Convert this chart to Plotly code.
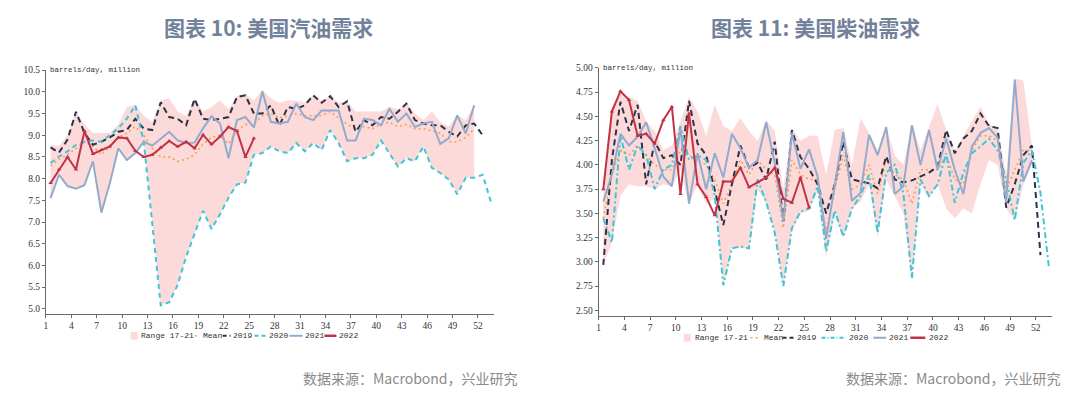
import plotly.graph_objects as go

W, H = 1080, 397

# ---------------- data: gasoline (left) ----------------
gas_2019 = [8.72, 8.60, 8.90, 9.54, 9.05, 8.78, 8.85, 8.95, 9.08, 9.12,
            9.38, 9.15, 9.12, 9.76, 9.42, 9.38, 9.23, 9.84, 9.38, 9.35,
            9.38, 9.42, 9.88, 9.92, 9.50, 9.50, 9.69, 9.22, 9.65, 9.61,
            9.69, 9.92, 9.75, 9.90, 9.65, 9.78, 9.08, 9.35, 9.23, 9.42,
            9.38, 9.54, 9.73, 9.35, 9.27, 9.23, 9.23, 9.08, 8.97, 9.23,
            9.27, 9.00]
gas_2020 = [8.36, 8.51, 8.63, 8.78, 8.85, 8.88, 8.85, 9.00, 9.16, 9.38,
            9.69, 8.85, 7.00, 5.08, 5.15, 5.55, 6.20, 6.73, 7.26, 6.84,
            7.18, 7.56, 7.87, 7.91, 8.55, 8.59, 8.74, 8.63, 8.59, 8.82,
            8.63, 8.82, 8.66, 9.12, 8.82, 8.40, 8.47, 8.47, 8.55, 8.88,
            8.59, 8.28, 8.47, 8.40, 8.74, 8.25, 8.13, 7.98, 7.64, 8.02,
            8.02, 8.09, 7.45]
gas_2021 = [7.55, 8.09, 7.83, 7.77, 7.85, 8.40, 7.22, 7.90, 8.70, 8.43,
            8.59, 8.85, 8.76, 8.91, 9.08, 8.88, 8.82, 8.83, 9.16, 9.44,
            9.27, 8.47, 9.35, 9.42, 9.18, 10.01, 9.31, 9.27, 9.31, 9.73,
            9.42, 9.35, 9.57, 9.57, 9.57, 8.88, 8.88, 9.38, 9.35, 9.23,
            9.61, 9.31, 9.50, 9.19, 9.27, 9.31, 8.80, 8.93, 9.46, 9.04,
            9.69]
gas_2022 = [7.90, 8.21, 8.50, 8.21, 9.10, 8.57, 8.66, 8.74, 8.95, 8.93,
            8.64, 8.50, 8.55, 8.72, 8.87, 8.74, 8.85, 8.70, 9.01, 8.79,
            8.97, 9.19, 9.10, 8.50, 8.93]
gas_mean = [8.30, 8.45, 8.55, 8.70, 8.85, 8.75, 8.55, 8.75, 8.95, 9.05,
            9.20, 9.00, 8.70, 8.50, 8.50, 8.40, 8.45, 8.55, 8.80, 8.95,
            9.00, 8.80, 9.10, 9.25, 9.25, 9.45, 9.50, 9.40, 9.45, 9.50,
            9.45, 9.45, 9.45, 9.55, 9.40, 9.25, 9.15, 9.20, 9.15, 9.25,
            9.30, 9.20, 9.25, 9.15, 9.15, 9.10, 9.05, 8.85, 8.85, 8.95,
            9.15]
gas_range_hi = [8.78, 8.75, 9.00, 9.55, 9.25, 9.05, 9.05, 9.05, 9.25, 9.65,
                9.70, 9.45, 9.30, 9.80, 9.85, 9.55, 9.45, 9.85, 9.55, 9.65,
                9.80, 9.60, 9.90, 9.95, 9.80, 10.05, 9.85, 9.75, 9.80, 9.80,
                9.75, 9.92, 9.80, 9.90, 9.75, 9.78, 9.55, 9.55, 9.55, 9.55,
                9.65, 9.60, 9.75, 9.50, 9.35, 9.55, 9.30, 9.20, 9.46, 9.35,
                9.70]
gas_range_lo = [7.55, 8.09, 7.83, 7.77, 7.85, 8.40, 7.22, 7.90, 8.70, 8.43,
                8.59, 8.85, 7.00, 5.08, 5.15, 5.55, 6.20, 6.73, 7.26, 6.84,
                7.18, 7.56, 7.87, 7.91, 8.55, 8.59, 8.74, 8.63, 8.59, 8.82,
                8.63, 8.82, 8.66, 9.12, 8.82, 8.40, 8.47, 8.47, 8.55, 8.88,
                8.59, 8.28, 8.47, 8.40, 8.74, 8.25, 8.13, 7.98, 7.64, 8.02,
                8.02]

# ---------------- data: diesel (right) ----------------
dsl_2019 = [2.97, 4.05, 4.65, 4.35, 4.62, 3.80, 4.24, 4.07, 4.10, 4.00,
            4.66, 4.22, 4.10, 3.75, 3.38, 3.80, 4.20, 3.97, 4.02, 3.85,
            4.24, 3.42, 4.36, 4.08, 3.96, 3.80, 3.50, 3.80, 4.24, 3.85,
            3.83, 3.81, 3.76, 4.09, 3.85, 3.82, 3.84, 3.88, 3.92, 3.98,
            4.36, 4.12, 4.27, 4.35, 4.53, 4.40, 4.38, 3.56, 3.80, 4.10,
            4.20, 3.07]
dsl_2020 = [3.45, 3.20, 4.30, 3.95, 4.20, 4.10, 3.75, 3.95, 4.00, 4.40,
            4.05, 4.10, 4.05, 3.68, 2.76, 3.14, 3.16, 3.14, 3.85, 3.62,
            3.30, 2.75, 3.35, 3.52, 3.55, 3.78, 3.11, 3.53, 3.26, 3.55,
            3.68, 3.90, 3.30, 3.92, 4.00, 3.71, 2.83, 3.85, 3.68, 3.80,
            4.12, 3.61, 3.92, 4.12, 4.19, 4.27, 4.15, 3.85, 3.43, 4.02,
            4.15, 3.71, 2.93]
dsl_2021 = [3.62, 3.90, 4.32, 4.20, 4.29, 4.44, 4.17, 3.88, 3.78, 4.38,
            3.60, 4.12, 3.75, 4.12, 3.87, 4.32, 4.17, 3.97, 4.05, 4.44,
            4.02, 3.42, 4.33, 3.96, 4.16, 3.88, 3.24, 3.80, 4.34, 3.63,
            3.71, 4.31, 4.10, 4.39, 3.70, 3.78, 4.41, 4.00, 4.36, 3.95,
            4.27, 3.95, 3.70, 4.19, 4.33, 4.38, 4.28, 3.62, 4.88, 3.83,
            4.05]
dsl_2022 = [3.75, 4.55, 4.76, 4.67, 4.30, 4.32, 4.22, 4.46, 4.60, 3.70,
            4.53, 3.80, 3.67, 3.48, 3.83, 3.83, 3.97, 3.77, 3.82, 3.87,
            3.97, 3.65, 3.61, 3.87, 3.56]
dsl_mean = [3.45, 3.90, 4.15, 4.10, 4.20, 4.10, 4.00, 3.95, 3.95, 4.15,
            4.10, 4.05, 4.00, 3.85, 3.60, 3.80, 4.05, 3.90, 4.05, 3.95,
            3.90, 3.35, 4.05, 3.90, 3.85, 3.85, 3.30, 3.75, 4.10, 3.75,
            3.80, 4.00, 3.70, 4.05, 3.90, 3.85, 3.60, 3.95, 3.95, 3.95,
            4.10, 3.85, 3.80, 4.15, 4.30, 4.30, 4.25, 3.75, 3.95, 4.15,
            4.15]
dsl_range_hi = [3.78, 4.60, 4.75, 4.70, 4.66, 4.45, 4.35, 4.15, 4.20, 4.45,
                4.70, 4.55, 4.30, 4.62, 4.40, 4.35, 4.48, 4.35, 4.25, 4.46,
                4.35, 3.75, 4.38, 4.25, 4.30, 4.30, 3.90, 4.36, 4.38, 4.00,
                4.48, 4.33, 4.15, 4.40, 4.10, 4.00, 4.42, 4.15, 4.38, 4.63,
                4.36, 4.15, 4.30, 4.45, 4.60, 4.42, 4.38, 3.90, 4.89, 4.87,
                4.20]
dsl_range_lo = [2.97, 3.20, 3.68, 3.80, 3.78, 3.78, 3.75, 3.80, 3.78, 3.95,
                3.60, 3.80, 3.60, 3.65, 2.76, 3.14, 3.14, 3.14, 3.75, 3.60,
                3.30, 2.75, 3.32, 3.50, 3.53, 3.73, 3.05, 3.50, 3.24, 3.55,
                3.62, 3.80, 3.25, 3.85, 3.68, 3.50, 2.83, 3.80, 3.65, 3.80,
                3.55, 3.45, 3.55, 3.50, 3.80, 4.05, 4.00, 3.55, 3.43, 3.80,
                4.00]

week_ticks = [1, 4, 7, 10, 13, 16, 19, 22, 25, 28, 31, 34, 37, 40, 43, 46, 49, 52]

# ---------------- styles ----------------
C_RANGE = "#fddada"
C_MEAN = "#f3a052"
C_2019 = "#2c3249"
C_2020 = "#3dc6d6"
C_2021 = "#92abcd"
C_2022 = "#c23247"
SHIFT = 0.55  # points sit inside each week slot

fig = go.Figure()


def weeks(vals):
    return [i + 1 + SHIFT for i in range(len(vals))]


def add_panel(xa, ya, hi, lo, mean, y19, y20, y21, y22, dash20):
    fig.add_trace(go.Scatter(x=weeks(hi), y=hi, xaxis=xa, yaxis=ya, mode="lines",
                             line=dict(width=0, color=C_RANGE), hoverinfo="skip",
                             showlegend=False))
    fig.add_trace(go.Scatter(x=weeks(lo), y=lo, xaxis=xa, yaxis=ya, mode="lines",
                             line=dict(width=0, color=C_RANGE), fill="tonexty",
                             fillcolor=C_RANGE, name="Range 17-21", showlegend=False))
    fig.add_trace(go.Scatter(x=weeks(mean), y=mean, xaxis=xa, yaxis=ya, mode="lines",
                             line=dict(color=C_MEAN, width=1.6, dash="2px,3px"),
                             name="Mean", showlegend=False))
    fig.add_trace(go.Scatter(x=weeks(y19), y=y19, xaxis=xa, yaxis=ya, mode="lines",
                             line=dict(color=C_2019, width=2, dash="6px,4px"),
                             name="2019", showlegend=False))
    fig.add_trace(go.Scatter(x=weeks(y20), y=y20, xaxis=xa, yaxis=ya, mode="lines",
                             line=dict(color=C_2020, width=2, dash=dash20),
                             name="2020", showlegend=False))
    fig.add_trace(go.Scatter(x=weeks(y21), y=y21, xaxis=xa, yaxis=ya, mode="lines",
                             line=dict(color=C_2021, width=2),
                             name="2021", showlegend=False))
    fig.add_trace(go.Scatter(x=weeks(y22), y=y22, xaxis=xa, yaxis=ya, mode="lines+markers",
                             line=dict(color=C_2022, width=2),
                             marker=dict(size=4, color=C_2022, symbol="triangle-up"),
                             name="2022", showlegend=False))


add_panel("x", "y", gas_range_hi, gas_range_lo, gas_mean,
          gas_2019, gas_2020, gas_2021, gas_2022, "5px,4px")
add_panel("x2", "y2", dsl_range_hi, dsl_range_lo, dsl_mean,
          dsl_2019, dsl_2020, dsl_2021, dsl_2022, "6px,3px,2px,3px")


def px(x):
    return x / W


def py(y):
    return 1 - y / H


tickfont = dict(family="Liberation Serif", size=9.5, color="#333333")
axis_common = dict(showgrid=False, zeroline=False, showline=True, linecolor="#6a6a6a",
                   linewidth=1, ticks="outside", ticklen=3, tickcolor="#6a6a6a",
                   tickfont=tickfont)

fig.update_layout(
    width=W, height=H, margin=dict(l=0, r=0, t=0, b=0),
    paper_bgcolor="white", plot_bgcolor="white", showlegend=False,
    xaxis=dict(domain=[px(44), px(493)], range=[1, 53.9], tickvals=week_ticks,
               anchor="y", **axis_common),
    yaxis=dict(domain=[py(312.7), py(66)], range=[4.886, 10.5],
               tickvals=[5 + 0.5 * i for i in range(12)], tickformat=".1f",
               anchor="x", **axis_common),
    xaxis2=dict(domain=[px(597.7), px(1052)], range=[1, 53.9], tickvals=week_ticks,
                anchor="y2", **axis_common),
    yaxis2=dict(domain=[py(315), py(63.7)], range=[2.442, 5.0],
                tickvals=[2.5 + 0.25 * i for i in range(11)], tickformat=".2f",
                anchor="x2", **axis_common),
)

ann = []
shapes = []
TITLE_C = "#72829a"
ann.append(dict(text="<b>图表 10: 美国汽油需求</b>", x=px(267), y=py(22), xref="paper", yref="paper",
                showarrow=False, xanchor="center", yanchor="middle",
                font=dict(family="Noto Sans CJK SC", size=21, color=TITLE_C)))
ann.append(dict(text="<b>图表 11: 美国柴油需求</b>", x=px(815), y=py(22), xref="paper", yref="paper",
                showarrow=False, xanchor="center", yanchor="middle",
                font=dict(family="Noto Sans CJK SC", size=21, color=TITLE_C)))
for xs in (300, 844):
    ann.append(dict(text="数据来源：Macrobond，兴业研究", x=px(xs), y=py(378), xref="paper",
                    yref="paper", showarrow=False, xanchor="left", yanchor="middle",
                    font=dict(family="Noto Sans CJK SC", size=14, color="#8a8a8a")))
for xs, ys in ((46, 66), (600, 64)):
    ann.append(dict(text="barrels/day, million", x=px(xs), y=py(ys), xref="paper", yref="paper",
                    showarrow=False, xanchor="left", yanchor="middle",
                    font=dict(family="Liberation Mono", size=7.5, color="#333333")))

legend_font = dict(family="Liberation Mono", size=8, color="#333333")


def legend(yc, sw, mean_sym, y19_sym, y20_sym, y21_sym, y22_sym, texts_x, dash20):
    shapes.append(dict(type="rect", xref="paper", yref="paper", x0=px(sw[0]), x1=px(sw[1]),
                       y0=py(yc + 4), y1=py(yc - 4), fillcolor=C_RANGE, line=dict(width=0)))
    for (a, b), col, dash, wd in ((mean_sym, C_MEAN, "2px,3px", 1.5),
                                  (y19_sym, C_2019, "4px,3px", 2),
                                  (y20_sym, C_2020, dash20, 2),
                                  (y21_sym, C_2021, "solid", 2),
                                  (y22_sym, C_2022, "solid", 2.5)):
        shapes.append(dict(type="line", xref="paper", yref="paper", x0=px(a), x1=px(b),
                           y0=py(yc), y1=py(yc), line=dict(color=col, width=wd, dash=dash)))
    for t, xt in zip(["Range 17-21", "Mean", "2019", "2020", "2021", "2022"], texts_x):
        ann.append(dict(text=t, x=px(xt), y=py(yc), xref="paper", yref="paper",
                        showarrow=False, xanchor="left", yanchor="middle", borderpad=0,
                        font=legend_font))


legend(335, (129, 136), (193, 198), (221, 229), (253, 264), (288, 301), (323, 335),
       (138, 200, 230, 266, 303, 337), "4px,3px")
legend(337, (683, 690), (750, 758), (782, 793), (821, 845), (873, 886), (910, 925),
       (693, 762, 795, 848, 888, 928), "4px,2px,1px,2px")

fig.update_layout(annotations=ann, shapes=shapes)
fig.write_html("out.html", config={"displayModeBar": False},
               post_script="document.body.style.margin='0';document.body.style.overflow='hidden';")
